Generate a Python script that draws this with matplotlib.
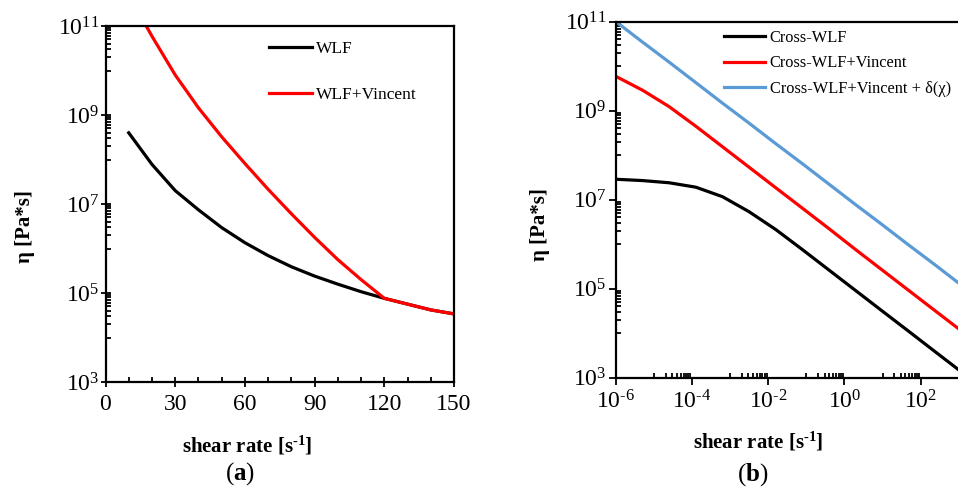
import matplotlib
matplotlib.use("Agg")
import matplotlib.pyplot as plt
from matplotlib.ticker import FixedLocator, NullFormatter

plt.rcParams['font.family'] = ['Liberation Serif', 'DejaVu Serif']
plt.rcParams['mathtext.fontset'] = 'custom'
plt.rcParams['mathtext.rm'] = 'Liberation Serif'
plt.rcParams['mathtext.it'] = 'Liberation Serif:italic'
plt.rcParams['mathtext.bf'] = 'Liberation Serif:bold'

# ---- panel (a): shear rate [1/s] vs viscosity [Pa*s]
rate_a = [10, 20, 30, 40, 50, 60, 70, 80, 90, 100, 110, 120, 130, 140, 150]
wlf = [3.98e8, 7.76e7, 2.0e7, 7.41e6, 2.95e6, 1.35e6, 6.92e5, 3.89e5,
       2.40e5, 1.58e5, 1.07e5, 7.59e4, 5.62e4, 4.17e4, 3.39e4]
wlf_vincent = [5.0e11, 5.89e10, 7.94e9, 1.45e9, 3.24e8, 8.13e7, 2.14e7, 6.03e6,
               1.78e6, 5.62e5, 2.0e5, 7.59e4, 5.62e4, 4.17e4, 3.39e4]

# ---- panel (b): log shear rate
rate_b = [1e-6, 5e-6, 2.5e-5, 1.25e-4, 6.25e-4, 3.125e-3, 1.5625e-2, 7.8125e-2,
          0.390625, 1.953125, 9.765625, 48.828125, 244.140625, 1220.703125]
cross_wlf = [2.88e7, 2.69e7, 2.40e7, 1.91e7, 1.17e7, 5.37e6, 2.14e6, 7.59e5,
             2.63e5, 9.12e4, 3.16e4, 1.10e4, 3.80e3, 1.32e3]
cross_vincent = [5.89e9, 2.88e9, 1.23e9, 4.47e8, 1.55e8, 5.37e7, 1.86e7, 6.46e6,
                 2.24e6, 7.59e5, 2.63e5, 9.12e4, 3.16e4, 1.10e4]
cross_vincent_delta = [1.0e11, 3.47e10, 1.23e10, 4.27e9, 1.48e9, 5.25e8, 1.82e8, 6.46e7,
                       2.24e7, 7.76e6, 2.75e6, 9.55e5, 3.39e5, 1.17e5]

y_major = [1e3, 1e5, 1e7, 1e9, 1e11]
y_labels = [r'$10^{3}$', r'$10^{5}$', r'$10^{7}$', r'$10^{9}$', r'$10^{11}$']
x_major_b = [1e-6, 1e-4, 1e-2, 1e0, 1e2]
x_labels_b = [r'$10^{\text{-}6}$', r'$10^{\text{-}4}$', r'$10^{\text{-}2}$', r'$10^{0}$', r'$10^{2}$']
x_title = r'shear rate [s$^{\mathbf{\text{-}1}}$]'

BLUE = '#5B9BD5'
LW = 2.3

W, H = 958, 495
fig = plt.figure(figsize=(W / 100, H / 100), dpi=100)


def px_axes(left, top, right, bottom):
    return fig.add_axes([left / W, 1 - bottom / H, (right - left) / W, (bottom - top) / H])


def log_minors(exps):
    return [k * 10.0 ** e for e in exps for k in range(1, 10)]


# ---------------- panel (a)
ax1 = px_axes(105.5, 26, 454, 382)
ax1.plot(rate_a, wlf, color='black', lw=LW, label='WLF')
ax1.plot(rate_a, wlf_vincent, color='red', lw=LW, label='WLF+Vincent')
ax1.set_yscale('log')
ax1.set_xlim(0, 150)
ax1.set_ylim(1e3, 1e11)
ax1.set_xticks(range(0, 151, 30))
ax1.xaxis.set_minor_locator(FixedLocator(range(10, 150, 10)))
ax1.yaxis.set_major_locator(FixedLocator(y_major))
ax1.set_yticklabels(y_labels)
ax1.yaxis.set_minor_locator(FixedLocator(log_minors([4, 6, 8, 10])))
ax1.yaxis.set_minor_formatter(NullFormatter())
ax1.tick_params(axis='x', which='major', direction='inout', length=7, width=1.3,
                labelsize=17, pad=5)
ax1.tick_params(axis='x', which='minor', direction='in', length=3.5, width=1.3)
ax1.tick_params(axis='y', which='major', direction='inout', length=7, width=1.3,
                labelsize=17, pad=1)
ax1.tick_params(axis='y', which='minor', direction='in', length=3.5, width=1.3)
for s in ax1.spines.values():
    s.set_linewidth(1.6)
ax1.legend(loc='upper left', bbox_to_anchor=(0.469, 0.958), frameon=False, fontsize=12.5,
           handlelength=2.5, handletextpad=0.2, labelspacing=1.69,
           borderpad=0, borderaxespad=0)

fig.text(25 / W, 1 - 227 / H, 'η [Pa*s]', rotation=90, ha='center', va='center',
         fontsize=15, fontweight='bold')
fig.text(247 / W, 1 - 446 / H, x_title, ha='center', va='center',
         fontsize=15, fontweight='bold')
fig.text(240 / W, 1 - 474 / H, r'($\mathbf{a}$)', ha='center', va='center', fontsize=18)

# ---------------- panel (b)
ax2 = px_axes(616, 21.7, 958.7, 377.7)
ax2.plot(rate_b, cross_wlf, color='black', lw=LW, label='Cross-WLF')
ax2.plot(rate_b, cross_vincent, color='red', lw=LW, label='Cross-WLF+Vincent')
ax2.plot(rate_b, cross_vincent_delta, color=BLUE, lw=LW, label='Cross-WLF+Vincent + δ(χ)')
ax2.set_xscale('log')
ax2.set_yscale('log')
ax2.set_xlim(1e-6, 1e3)
ax2.set_ylim(1e3, 1e11)
ax2.xaxis.set_major_locator(FixedLocator(x_major_b))
ax2.set_xticklabels(x_labels_b)
ax2.xaxis.set_minor_locator(FixedLocator(log_minors([-5, -3, -1, 1])))
ax2.xaxis.set_minor_formatter(NullFormatter())
ax2.yaxis.set_major_locator(FixedLocator(y_major))
ax2.set_yticklabels(y_labels)
ax2.yaxis.set_minor_locator(FixedLocator(log_minors([4, 6, 8, 10])))
ax2.yaxis.set_minor_formatter(NullFormatter())
ax2.tick_params(which='major', direction='out', length=5, width=1.3, labelsize=17, pad=2)
ax2.tick_params(which='minor', direction='in', length=3.5, width=1.3)
ax2.tick_params(axis='x', which='major', pad=4)
ax2.spines['right'].set_visible(False)
for s in ax2.spines.values():
    s.set_linewidth(1.6)
ax2.legend(loc='upper left', bbox_to_anchor=(0.315, 0.978), frameon=False, fontsize=11.8,
           handlelength=2.5, handletextpad=0.3, labelspacing=0.6,
           borderpad=0, borderaxespad=0)

fig.text(540 / W, 1 - 225 / H, 'η [Pa*s]', rotation=90, ha='center', va='center',
         fontsize=15, fontweight='bold')
fig.text(758 / W, 1 - 442 / H, x_title, ha='center', va='center',
         fontsize=15, fontweight='bold')
fig.text(753 / W, 1 - 475 / H, r'($\mathbf{b}$)', ha='center', va='center', fontsize=18)

fig.savefig('out.png', dpi=100)
